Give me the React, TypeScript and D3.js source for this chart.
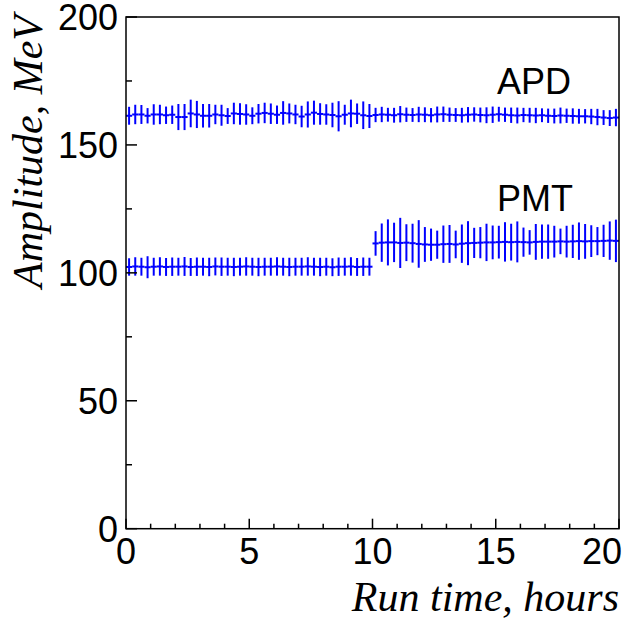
import React from "react";
import * as d3 from "d3";

const binWidth = 0.25;
const xTickLabels = ["0", "5", "10", "15", "20"];
const yTickLabels = ["0", "50", "100", "150", "200"];

const apdValues = [
  161.4, 161.9, 161.9, 161.4, 161.9, 161.9, 161.6, 161.8, 160.9, 160.9,
  162.3, 161.9, 161.4, 161.4, 161.9, 161.6, 161.3, 162.3, 162.1, 161.9,
  161.4, 162.2, 162.5, 162.2, 161.8, 162.5, 162.3, 161.9, 161.1, 161.9,
  162.6, 162.1, 161.9, 161.7, 161.2, 161.8, 162.3, 162.2, 161.6, 161.3,
  161.7, 161.9, 161.8, 161.6, 162.0, 161.8, 161.7, 161.9, 161.8, 161.6,
  161.9, 162.0, 161.8, 161.7, 161.6, 161.8, 161.9, 161.7, 161.6, 161.8,
  162.0, 161.8, 161.6, 161.5, 161.7, 161.6, 161.5, 161.6, 161.4, 161.3,
  161.5, 161.4, 161.3, 161.2, 161.2, 161.1, 160.9, 160.7, 160.5, 160.7,
];
const apdErrors = [
  3.5, 3.8, 3.7, 3.0, 4.0, 3.8, 3.4, 3.6, 5.1, 5.1,
  5.4, 5.3, 4.6, 4.6, 3.8, 4.1, 3.1, 4.2, 4.2, 4.0,
  3.3, 3.8, 4.0, 4.0, 3.6, 4.6, 3.9, 3.8, 4.2, 5.1,
  4.7, 4.2, 4.0, 4.8, 5.9, 3.9, 5.4, 4.0, 5.4, 4.7,
  2.8, 3.0, 2.7, 2.9, 3.2, 2.8, 2.7, 3.0, 2.9, 2.8,
  3.1, 3.0, 2.8, 2.7, 2.9, 3.0, 2.8, 2.9, 3.1, 3.2,
  2.9, 2.8, 3.0, 3.1, 2.8, 2.9, 3.0, 2.7, 2.8, 2.9,
  3.1, 2.8, 3.0, 2.9, 2.8, 3.0, 3.2, 2.9, 3.1, 3.4,
];
const pmtValues = [
  102.3, 102.5, 102.4, 102.2, 102.4, 102.5, 102.3, 102.4, 102.4, 102.5,
  102.3, 102.4, 102.4, 102.3, 102.5, 102.4, 102.4, 102.3, 102.4, 102.5,
  102.4, 102.3, 102.4, 102.4, 102.5, 102.4, 102.3, 102.4, 102.4, 102.5,
  102.4, 102.3, 102.4, 102.2, 102.4, 102.4, 102.5, 102.3, 102.4, 102.4,
  111.5, 111.8, 111.9, 111.9, 111.7, 111.8, 111.6, 111.3, 111.1, 111.0,
  111.0, 111.2, 111.3, 111.1, 111.4, 111.6, 111.7, 111.8, 111.9, 111.9,
  112.0, 112.1, 112.0, 112.1, 112.0, 111.9, 112.1, 112.2, 112.2, 112.2,
  112.3, 112.2, 112.3, 112.4, 112.3, 112.4, 112.4, 112.5, 112.6, 112.5,
];
const pmtErrors = [
  3.4, 3.6, 3.5, 4.3, 3.5, 3.6, 3.5, 3.6, 3.5, 3.7,
  3.5, 3.6, 3.5, 3.6, 3.5, 3.6, 3.5, 3.6, 3.5, 3.6,
  3.5, 3.6, 3.5, 3.5, 3.6, 3.5, 3.6, 3.5, 3.5, 3.6,
  3.5, 3.6, 3.5, 3.5, 3.6, 3.5, 3.6, 3.5, 3.6, 3.5,
  4.8, 7.5, 9.0, 7.7, 9.8, 7.2, 7.6, 9.3, 6.8, 6.3,
  5.5, 7.3, 7.4, 5.4, 7.5, 8.6, 5.9, 6.1, 7.3, 6.6,
  6.4, 7.7, 7.2, 8.0, 5.7, 4.8, 7.0, 6.7, 6.7, 6.2,
  5.0, 6.2, 6.5, 7.3, 6.8, 6.2, 5.5, 6.3, 7.5, 8.3,
];

const W = 643;
const H = 622;
const left = 126;
const right = 619;
const top = 17;
const bottom = 528.7;
const BLUE = "#0000ff";

const x = d3.scaleLinear().domain([0, 20]).range([left, right]);
const y = d3.scaleLinear().domain([0, 200]).range([bottom, top]);

function Series({ values, errors }: { values: number[]; errors: number[] }) {
  return (
    <g stroke={BLUE} strokeWidth={2} fill="none">
      {values.map((v, i) => {
        const x0 = i * binWidth;
        const xc = x0 + binWidth / 2;
        return (
          <g key={i}>
            <line x1={x(x0)} x2={x(x0 + binWidth)} y1={y(v)} y2={y(v)} />
            <line x1={x(xc)} x2={x(xc)} y1={y(v - errors[i])} y2={y(v + errors[i])} />
          </g>
        );
      })}
    </g>
  );
}

export default function App() {
  const xMinor = d3.range(0, 21, 1);
  const yMinor = d3.range(0, 201, 25);
  const font = "'Liberation Sans', Arial, Helvetica, sans-serif";
  const serif = "'Liberation Serif', 'Times New Roman', serif";
  return (
    <svg
      width={W}
      height={H}
      style={{ position: "absolute", left: 0, top: 0, background: "#fff" }}
    >
      <rect x={0} y={0} width={W} height={H} fill="#fff" />
      <Series values={apdValues} errors={apdErrors} />
      <Series values={pmtValues} errors={pmtErrors} />
      <rect x={left} y={top} width={right - left} height={bottom - top} fill="none" stroke="#000" strokeWidth={1.5} />
      {xMinor.map((t) => (
        <line key={"xt" + t} x1={x(t)} x2={x(t)} y1={bottom} y2={bottom - (t % 5 === 0 ? 10 : 5)} stroke="#000" strokeWidth={1.5} />
      ))}
      {yMinor.map((t) => (
        <line key={"yt" + t} x1={left} x2={left + (t % 50 === 0 ? 11 : 6)} y1={y(t)} y2={y(t)} stroke="#000" strokeWidth={1.5} />
      ))}
      {xTickLabels.map((s, i) => {
        const v = +s;
        const last = i === xTickLabels.length - 1;
        return (
          <text
            key={"xl" + s}
            x={last ? right + 3 : x(v)}
            y={564}
            textAnchor={last ? "end" : "middle"}
            fontFamily={font}
            fontSize={36}
            fill="#000"
          >
            {s}
          </text>
        );
      })}
      {yTickLabels.map((s) => (
        <text
          key={"yl" + s}
          x={118}
          y={y(+s) + 13}
          textAnchor="end"
          fontFamily={font}
          fontSize={36}
          fill="#000"
        >
          {s}
        </text>
      ))}
      <text x={497} y={94} fontFamily={font} fontSize={36} fill="#000">APD</text>
      <text x={497} y={211} fontFamily={font} fontSize={36} fill="#000">PMT</text>
      <text
        transform={`translate(42, ${top - 2}) rotate(-90)`}
        textAnchor="end"
        fontFamily={serif}
        fontStyle="italic"
        fontSize={42}
        fill="#000"
      >
        Amplitude, MeV
      </text>
      <text
        x={right}
        y={611}
        textAnchor="end"
        fontFamily={serif}
        fontStyle="italic"
        fontSize={42}
        fill="#000"
      >
        Run time, hours
      </text>
    </svg>
  );
}
